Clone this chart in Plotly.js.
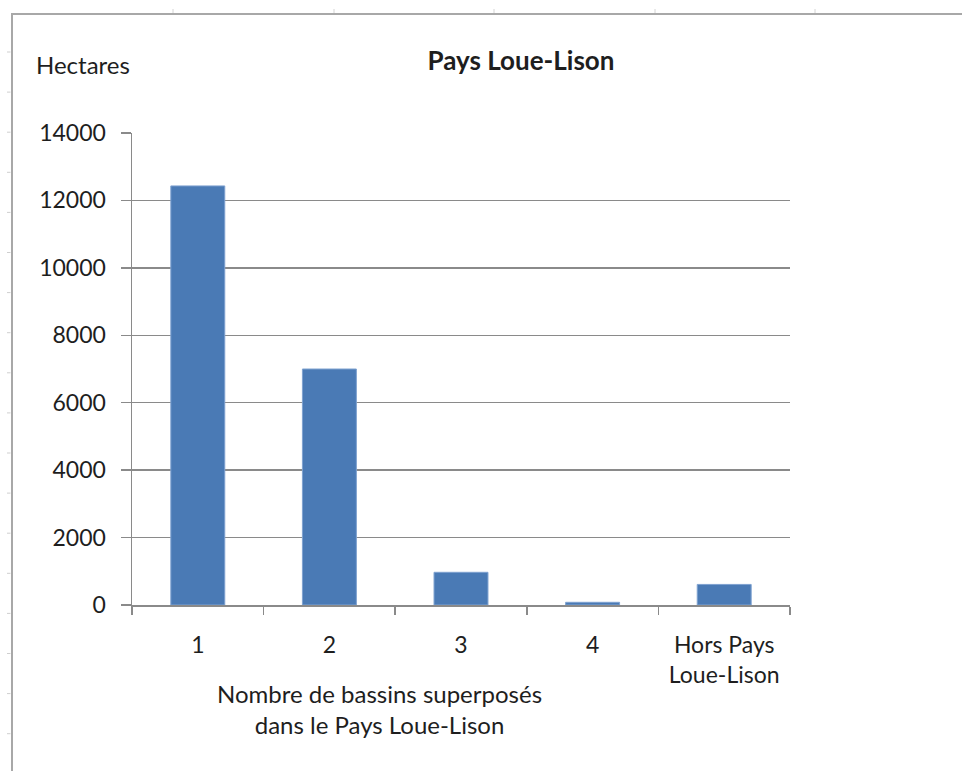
<!DOCTYPE html>
<html>
<head>
<meta charset="utf-8">
<script src="https://cdn.plot.ly/plotly-3.0.1.min.js"></script>
<style>
  html, body { margin: 0; padding: 0; background: #ffffff; }
  #chart { width: 962px; height: 771px; }
</style>
</head>
<body>
<div id="chart"></div>
<script>
// ---- Data ----
var categories = ['1', '2', '3', '4', 'Hors Pays<br>Loue-Lison'];
var hectares = [12430, 7000, 970, 80, 610];
var yTickValues = [0, 2000, 4000, 6000, 8000, 10000, 12000, 14000];

var chartTitle = 'Pays Loue-Lison';
var yAxisLabel = 'Hectares';
var xAxisLabel = 'Nombre de bassins superposés<br>dans le Pays Loue-Lison';

// ---- Layout geometry ----
var W = 962, H = 771;
var L = 132, R = 790, T = 133, B = 605;
function px(x) { return (x - L) / (R - L); }
function py(y) { return (B - y) / (B - T); }

var axisGray = '#8a8a8a';
var textColor = '#1e1e1e';
var fontFam = 'Lato, "Open Sans", sans-serif';

var shapes = [];
// chart frame (left & top border of the Excel chart object)
shapes.push({type: 'line', xref: 'paper', yref: 'paper', x0: px(12), x1: px(12), y0: py(13), y1: py(771),
             line: {color: '#a8a8a8', width: 2}});
shapes.push({type: 'line', xref: 'paper', yref: 'paper', x0: px(11), x1: px(962), y0: py(14), y1: py(14),
             line: {color: '#a8a8a8', width: 2}});
// faint spreadsheet cell marks outside the chart frame
for (var k = 0; k < 18; k++) {
  var yy = 52 + 40.1 * k;
  shapes.push({type: 'line', xref: 'paper', yref: 'paper', x0: px(7), x1: px(10.5), y0: py(yy), y1: py(yy),
               line: {color: '#cfcfcf', width: 1}});
}
[173, 334, 494, 655, 815].forEach(function (xx) {
  shapes.push({type: 'line', xref: 'paper', yref: 'paper', x0: px(xx), x1: px(xx), y0: py(9), y1: py(13),
               line: {color: '#d4d4d4', width: 1}});
});

var trace = {
  type: 'bar',
  x: categories,
  y: hectares,
  marker: {color: '#4a7ab5', line: {color: '#7fa2d0', width: 1}},
  hoverinfo: 'x+y'
};

var layout = {
  width: W, height: H,
  margin: {l: L, r: W - R, t: T, b: H - B, pad: 0},
  paper_bgcolor: '#ffffff',
  plot_bgcolor: '#ffffff',
  showlegend: false,
  bargap: 0.59,
  font: {family: fontFam, size: 23, color: textColor},
  title: {
    text: '<b>' + chartTitle + '</b>',
    font: {family: fontFam, size: 26, color: textColor},
    xref: 'container', x: 521 / W, xanchor: 'center',
    yref: 'container', y: 1 - 61 / H, yanchor: 'middle'
  },
  xaxis: {
    type: 'category',
    tickson: 'boundaries',
    ticks: 'outside', ticklen: 8, tickwidth: 1.5, tickcolor: axisGray,
    showline: true, linecolor: axisGray, linewidth: 1.5,
    showgrid: false, zeroline: false,
    ticklabelstandoff: 19,
    tickfont: {family: fontFam, size: 23, color: textColor}
  },
  yaxis: {
    range: [0, 14000],
    tickvals: yTickValues,
    tickformat: 'd',
    ticks: 'outside', ticklen: 10, tickwidth: 1.5, tickcolor: axisGray,
    showline: true, linecolor: axisGray, linewidth: 1.5,
    showgrid: true, gridcolor: axisGray, gridwidth: 1.5,
    zeroline: false,
    ticklabelstandoff: 10,
    tickfont: {family: fontFam, size: 23, color: textColor}
  },
  annotations: [
    {text: yAxisLabel, xref: 'paper', yref: 'paper', x: px(83), y: py(64),
     xanchor: 'center', yanchor: 'middle', showarrow: false,
     font: {family: fontFam, size: 24, color: textColor}},
    {text: xAxisLabel, xref: 'paper', yref: 'paper', x: px(379), y: py(709),
     xanchor: 'center', yanchor: 'middle', showarrow: false, align: 'center',
     font: {family: fontFam, size: 24, color: textColor}}
  ],
  shapes: shapes
};

Plotly.newPlot('chart', [trace], layout, {displayModeBar: false, staticPlot: true});
</script>
</body>
</html>
